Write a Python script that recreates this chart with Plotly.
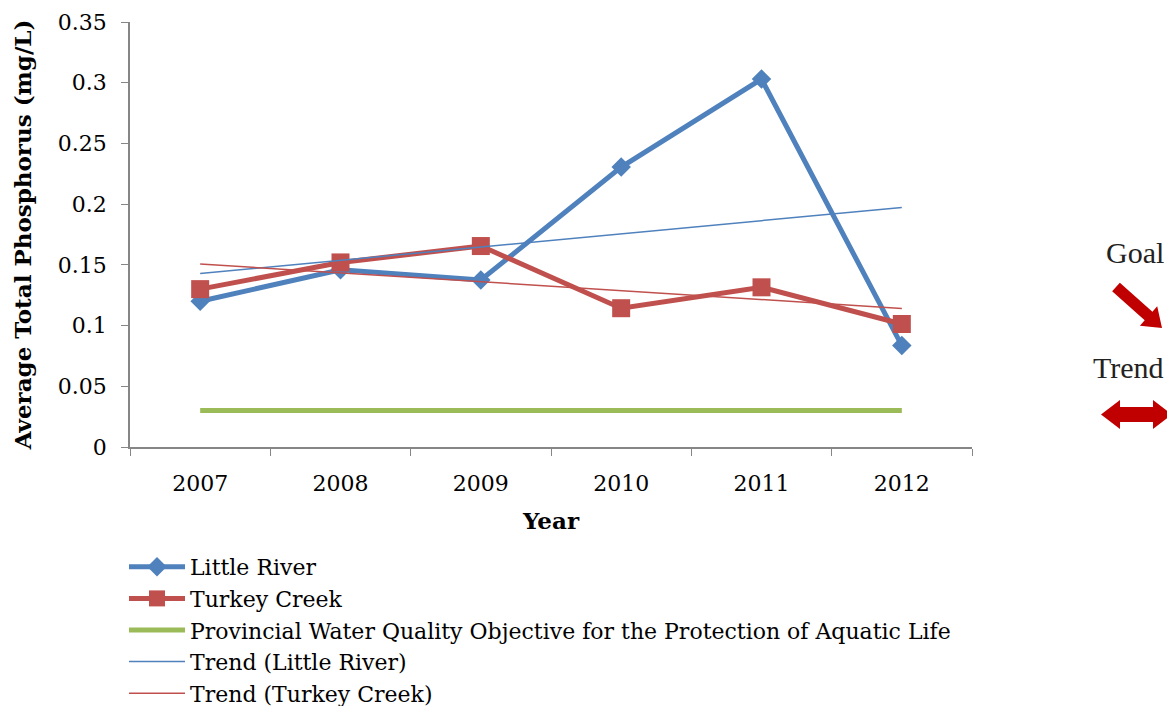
import numpy as np
import plotly.graph_objects as go

years = ["2007", "2008", "2009", "2010", "2011", "2012"]
little_river = [0.120, 0.146, 0.1375, 0.2305, 0.303, 0.0835]
turkey_creek = [0.130, 0.152, 0.1655, 0.1143, 0.1315, 0.1013]
objective = [0.03, 0.03, 0.03, 0.03, 0.03, 0.03]
y_ticks = [0, 0.05, 0.1, 0.15, 0.2, 0.25, 0.3, 0.35]

BLUE = "#4F81BD"
RED = "#C0504D"
GREEN = "#9BBB59"
ARROW = "#C00000"
FONT = "DejaVu Serif"

idx = np.arange(1, len(years) + 1)
lr_fit = np.polyval(np.polyfit(idx, little_river, 1), idx)
tc_fit = np.polyval(np.polyfit(idx, turkey_creek, 1), idx)

W, H = 1167, 706
PX0, PX1, PY0, PY1 = 130, 972, 22, 447  # plot area in page px
L, T, R, B = PX0, PY0, W - PX1, H - PY1
PW, PH = PX1 - PX0, PY1 - PY0


def px(x, y):
    return (x - PX0) / PW, (PY1 - y) / PH


fig = go.Figure()
fig.add_trace(go.Scatter(x=years, y=little_river, name="Little River", mode="lines+markers",
                         line=dict(color=BLUE, width=5),
                         marker=dict(symbol="diamond", size=15, color=BLUE)))
fig.add_trace(go.Scatter(x=years, y=turkey_creek, name="Turkey Creek", mode="lines+markers",
                         line=dict(color=RED, width=5),
                         marker=dict(symbol="square", size=18, color=RED)))
fig.add_trace(go.Scatter(x=years, y=objective,
                         name="Provincial Water Quality Objective for the Protection of Aquatic Life",
                         mode="lines", line=dict(color=GREEN, width=5)))
fig.add_trace(go.Scatter(x=years, y=lr_fit, name="Trend (Little River)", mode="lines",
                         line=dict(color=BLUE, width=1.5)))
fig.add_trace(go.Scatter(x=years, y=tc_fit, name="Trend (Turkey Creek)", mode="lines",
                         line=dict(color=RED, width=1.5)))


def poly_path(points):
    pts = [px(a, b) for a, b in points]
    return "M " + " L ".join(f"{a:.5f},{b:.5f}" for a, b in pts) + " Z"


# Goal arrow (pointing down-right)
S = np.array([1116.0, 287.0])
Tp = np.array([1162.0, 328.0])
u = (Tp - S) / np.linalg.norm(Tp - S)
n = np.array([-u[1], u[0]])
Bh = Tp - 18 * u
sw, hw = 5.8, 13.0
goal_pts = [S + sw * n, Bh + sw * n, Bh + hw * n, Tp, Bh - hw * n, Bh - sw * n, S - sw * n]
fig.add_shape(type="path", xref="paper", yref="paper", path=poly_path([tuple(p) for p in goal_pts]),
              fillcolor=ARROW, line=dict(width=0))

# Trend double arrow (horizontal)
yc = 414.5
lt, rt, hl, hh, sh = 1101.0, 1172.0, 19.0, 14.5, 7.5
trend_pts = [(lt, yc), (lt + hl, yc - hh), (lt + hl, yc - sh), (rt - hl, yc - sh), (rt - hl, yc - hh),
             (rt, yc), (rt - hl, yc + hh), (rt - hl, yc + sh), (lt + hl, yc + sh), (lt + hl, yc + hh)]
fig.add_shape(type="path", xref="paper", yref="paper", path=poly_path(trend_pts),
              fillcolor=ARROW, line=dict(width=0))

gx, gy = px(1166, 253)
fig.add_annotation(text="Goal", x=gx, y=gy, xref="paper", yref="paper", showarrow=False,
                   xanchor="right", yanchor="middle",
                   font=dict(family="Liberation Serif", size=30, color="#222222"))
tx, ty = px(1166, 367)
fig.add_annotation(text="Trend", x=tx, y=ty, xref="paper", yref="paper", showarrow=False,
                   xanchor="right", yanchor="middle",
                   font=dict(family="Liberation Serif", size=30, color="#222222"))

lx, ly = px(124, 546)
fig.update_layout(
    width=W, height=H,
    margin=dict(l=L, r=R, t=T, b=B, autoexpand=False),
    paper_bgcolor="white", plot_bgcolor="white",
    font=dict(family=FONT, size=22, color="black"),
    showlegend=True,
    legend=dict(x=lx, y=ly, xanchor="left", yanchor="top", orientation="v",
                font=dict(family=FONT, size=22, color="black"),
                itemwidth=56, tracegroupgap=0, bgcolor="rgba(0,0,0,0)"),
    xaxis=dict(type="category", range=[-0.5, 5.5], tickson="boundaries", ticks="outside",
               ticklen=7, tickcolor="#868686", showline=True, linecolor="#868686", linewidth=1.5,
               showgrid=False, zeroline=False, tickfont=dict(size=22), ticklabelstandoff=16,
               title=dict(text="<b>Year</b>", font=dict(size=23), standoff=18)),
    yaxis=dict(range=[0, 0.35], tickvals=y_ticks, ticks="outside", ticklen=7, tickcolor="#868686",
               showline=True, linecolor="#868686", linewidth=1.5, showgrid=False, zeroline=False,
               tickfont=dict(size=22), ticklabelstandoff=10,
               title=dict(text="<b>Average Total Phosphorus (mg/L)</b>", font=dict(size=23), standoff=20)),
)

fig.write_html("out.html", config={"displayModeBar": False},
               post_script="document.body.style.margin='0';document.body.style.overflow='hidden';")
